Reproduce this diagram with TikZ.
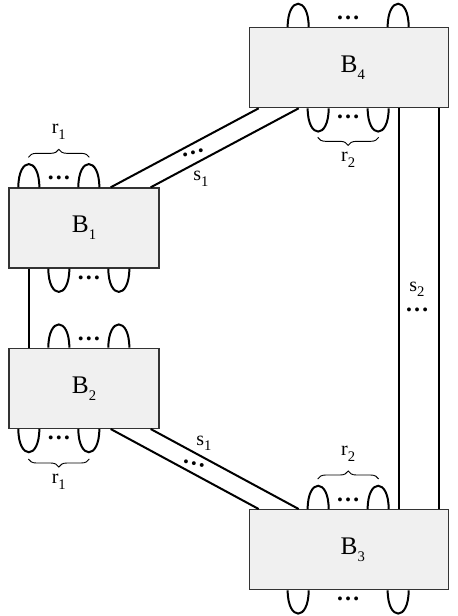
\documentclass[tikz,border=0pt]{standalone}
\usepackage{fontspec}
\setmainfont{Liberation Serif}
\usetikzlibrary{positioning, calc, decorations.pathreplacing}
\newcommand{\lowsub}[1]{\raisebox{-0.28em}{\fontsize{11}{12}\selectfont#1}}

\begin{document}
\begin{tikzpicture}[x=0.75pt, y=-0.75pt,
        block/.style={draw=black!80, fill=black!6, line width=1pt, inner sep=0pt, font=\fontsize{19}{22}\selectfont},
        small/.style={block, minimum width=112.5pt, minimum height=60pt},
        wide/.style={block, minimum width=149.25pt, minimum height=60pt},
        line/.style={-, line width=1.5pt},
        dots/.style={inner sep=0pt, font=\fontsize{18}{20}\selectfont\bfseries},
        lab/.style={inner sep=0pt, font=\fontsize{15}{17}\selectfont},
        grp/.style={decorate, decoration={brace, amplitude=6pt}, line width=0.7pt},
        hairpin/.pic={\draw[line] (0,0) .. controls (0,-31) and (21,-31) .. (21,0);}
    ]
        \useasboundingbox (0,0) rectangle (457,616);

        % Blocks
        \node[small] (B1) at (84,228) {B\lowsub{1}};
        \node[small, below=59.25pt of B1] (B2) {B\lowsub{2}};
        \node[wide, above right=59.25pt and 66.75pt of B1] (B4) {\hspace{6pt}B\lowsub{4}};
        \node[wide, below right=60pt and 66.75pt of B2] (B3) {\hspace{6pt}B\lowsub{3}};

        % Links between blocks
        \draw[line] ($(B1.south west)+(21,0)$) -- ($(B2.north west)+(21,0)$);
        \draw[line] ($(B1.north east)+(-49,0)$) -- ($(B4.south west)+(10,0)$);
        \draw[line] ($(B1.north east)+(-9,0)$) -- ($(B4.south west)+(50,0)$);
        \draw[line] ($(B2.south east)+(-49,0)$) -- ($(B3.north west)+(10,0)$);
        \draw[line] ($(B2.south east)+(-9,0)$) -- ($(B3.north west)+(50,0)$);
        \draw[line] ($(B4.south east)+(-50,0)$) -- ($(B3.north east)+(-50,0)$);
        \draw[line] ($(B4.south east)+(-10,0)$) -- ($(B3.north east)+(-10,0)$);

        % Loops on the blocks
        \foreach \bx/\dx in {B1/10, B1/70, B2/40, B2/100, B4/39, B4/139, B3/59, B3/119}
            \path ($(\bx.north west)+(\dx,0)$) pic {hairpin};
        \foreach \bx/\dx in {B1/40, B1/100, B2/10, B2/70, B4/59, B4/119, B3/39, B3/139}
            \path ($(\bx.south west)+(\dx,0)$) pic[yscale=-1] {hairpin};

        \foreach \bx/\dx in {B1/50.5, B2/80.5, B4/99.5, B3/99.5}
            \node[dots] (dt\bx) at ($(\bx.north west)+(\dx,-9)$) {…};
        \foreach \bx/\dx in {B1/80.5, B2/50.5, B4/99.5, B3/99.5}
            \node[dots] (db\bx) at ($(\bx.south west)+(\dx,9)$) {…};

        % Groups
        \draw[grp] ($(B1.north west)+(20,-30)$) -- ($(B1.north west)+(81,-30)$)
            node[lab, midway, above=13pt] (r1top) {r\lowsub{1}};
        \draw[grp] ($(B2.south west)+(81,30)$) -- ($(B2.south west)+(20,30)$)
            node[lab, midway, below=11pt] (r1bot) {r\lowsub{1}};
        \draw[grp] ($(B4.south west)+(130,29)$) -- ($(B4.south west)+(69,29)$)
            node[lab, midway, below=11pt] (r2top) {r\lowsub{2}};
        \draw[grp] ($(B3.north west)+(69,-30)$) -- ($(B3.north west)+(130,-30)$)
            node[lab, midway, above=13pt] (r2bot) {r\lowsub{2}};

        % Link labels
        \node[dots, rotate=15] (ds1a) at (193,153) {…};
        \node[dots, rotate=-13] (ds1b) at (194,464) {…};
        \node[dots] (ds2) at (417,310) {…};
        \node[lab, anchor=base] (s1a) at (201,181) {s\lowsub{1}};
        \node[lab, anchor=base] (s1b) at (204,445) {s\lowsub{1}};
        \node[lab, anchor=base] (s2) at (417,291) {s\lowsub{2}};
    \end{tikzpicture}
\end{document}
